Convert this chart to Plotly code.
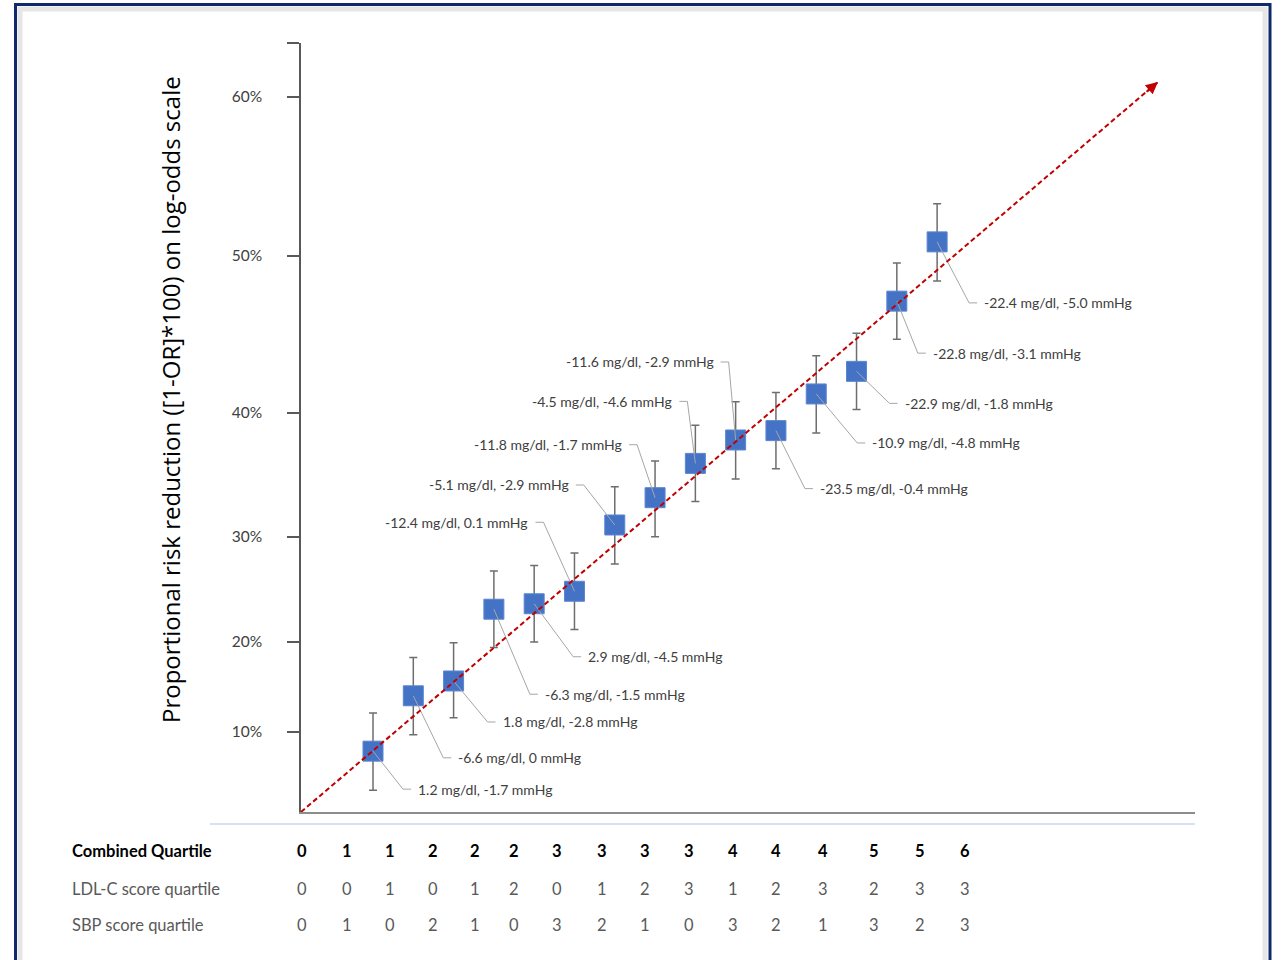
import plotly.graph_objects as go

# ---------------------------------------------------------------------------
# Data: proportional risk reduction per combined LDL-C / SBP quartile group,
# expressed in log-odds units (-ln OR); group 0/0 is the reference (origin).
# ---------------------------------------------------------------------------
GROUP_INDEX = list(range(1, 16))
LOG_ODDS_REDUCTION = [0.078, 0.149, 0.168, 0.260, 0.267, 0.283, 0.368, 0.403,
                      0.447, 0.477, 0.489, 0.536, 0.565, 0.655, 0.731]
ERROR_PLUS = [0.049, 0.049, 0.049, 0.049, 0.049, 0.049, 0.049, 0.047,
              0.049, 0.049, 0.049, 0.049, 0.049, 0.049, 0.049]
ERROR_MINUS = [0.050, 0.050, 0.047, 0.049, 0.049, 0.049, 0.050, 0.050,
               0.049, 0.050, 0.049, 0.050, 0.049, 0.049, 0.050]
POINT_LABELS = [
    "1.2 mg/dl, -1.7 mmHg", "-6.6 mg/dl, 0 mmHg", "1.8 mg/dl, -2.8 mmHg",
    "-6.3 mg/dl, -1.5 mmHg", "2.9 mg/dl, -4.5 mmHg", "-12.4 mg/dl, 0.1 mmHg",
    "-5.1 mg/dl, -2.9 mmHg", "-11.8 mg/dl, -1.7 mmHg", "-4.5 mg/dl, -4.6 mmHg",
    "-11.6 mg/dl, -2.9 mmHg", "-23.5 mg/dl, -0.4 mmHg", "-10.9 mg/dl, -4.8 mmHg",
    "-22.9 mg/dl, -1.8 mmHg", "-22.8 mg/dl, -3.1 mmHg", "-22.4 mg/dl, -5.0 mmHg",
]

# Trend arrow (origin to projected end)
TREND_X = [-0.787, 20.48]
TREND_Y = [0.0, 0.936]

# Axis ticks
Y_TICK_VALUES = [0.103, 0.218, 0.353, 0.512, 0.713, 0.917, 0.986]
Y_TICK_TEXT = ["10%", "20%", "30%", "40%", "50%", "60%", ""]
X_RANGE = [-0.787, 21.40]
Y_RANGE = [0.0, 0.986]

# Table under the chart
TABLE_ROW_NAMES = ["Combined Quartile", "LDL-C score quartile", "SBP score quartile"]
COMBINED_QUARTILE = [0, 1, 1, 2, 2, 2, 3, 3, 3, 3, 4, 4, 4, 5, 5, 6]
LDL_QUARTILE = [0, 0, 1, 0, 1, 2, 0, 1, 2, 3, 1, 2, 3, 2, 3, 3]
SBP_QUARTILE = [0, 1, 0, 2, 1, 0, 3, 2, 1, 0, 3, 2, 1, 3, 2, 3]

# ---------------------------------------------------------------------------
# Layout geometry (pixels)
# ---------------------------------------------------------------------------
W, H = 1281, 960
PLOT_L, PLOT_R, PLOT_T, PLOT_B = 301, 1195, 43, 812
PLOT_W, PLOT_H = PLOT_R - PLOT_L, PLOT_B - PLOT_T
PX_PER_X = PLOT_W / (X_RANGE[1] - X_RANGE[0])
PX_PER_Y = PLOT_H / (Y_RANGE[1] - Y_RANGE[0])

# Leader-line elbow offsets from each marker (dx, dy in px, label side)
LABEL_OFFSETS = [
    (30, 38, "r"), (30, 62, "r"), (34, 41, "r"), (36, 85, "r"), (39, 53, "r"),
    (-31, -69, "l"), (-31, -40, "l"), (-18, -53, "l"), (-8, -62, "l"), (-7, -78, "l"),
    (29, 58, "r"), (41, 49, "r"), (33, 32, "r"), (21, 52, "r"), (32, 61, "r"),
]
TABLE_COL_PX = [302, 347, 390, 433, 475, 514, 557, 602, 645, 689, 733, 776, 823, 874, 920, 965]
TABLE_ROW_PX = [851, 889, 925]

FONT = "Lato"
GREY_TEXT = "#404040"


def px_x(px):
    return (px - PLOT_L) / PLOT_W


def px_y(py):
    return (PLOT_B - py) / PLOT_H


fig = go.Figure()

# Markers with error bars
fig.add_trace(go.Scatter(
    x=GROUP_INDEX, y=LOG_ODDS_REDUCTION, mode="markers",
    marker=dict(symbol="square", size=20, color="#4472C4",
                line=dict(color="#5B86D1", width=1)),
    error_y=dict(type="data", symmetric=False, array=ERROR_PLUS,
                 arrayminus=ERROR_MINUS, color="#6E6E6E", thickness=1.5, width=4),
    hoverinfo="skip", showlegend=False, cliponaxis=False,
))

# Leader lines and labels
lx, ly = [], []
annotations = []
for xi, yi, text, (dx, dy, side) in zip(GROUP_INDEX, LOG_ODDS_REDUCTION, POINT_LABELS, LABEL_OFFSETS):
    ex = xi + dx / PX_PER_X
    ey = yi - dy / PX_PER_Y
    sgn = 1 if side == "r" else -1
    hx = ex + sgn * 8 / PX_PER_X
    lx += [xi, ex, hx, None]
    ly += [yi, ey, ey, None]
    annotations.append(dict(
        x=hx, y=ey, xref="x", yref="y", text=text, showarrow=False,
        xanchor="left" if side == "r" else "right", yanchor="middle",
        xshift=5 * sgn, font=dict(family=FONT, size=14, color=GREY_TEXT),
    ))

fig.add_trace(go.Scatter(
    x=lx, y=ly, mode="lines", line=dict(color="#A6A6A6", width=1),
    hoverinfo="skip", showlegend=False, cliponaxis=False,
))

# Dashed trend line with arrow head
fig.add_trace(go.Scatter(
    x=TREND_X, y=TREND_Y, mode="lines",
    line=dict(color="#C00000", width=2, dash="5px,3px"),
    hoverinfo="skip", showlegend=False, cliponaxis=False,
))
tail_frac = 0.985
annotations.append(dict(
    x=TREND_X[1], y=TREND_Y[1], xref="x", yref="y",
    ax=TREND_X[0] + (TREND_X[1] - TREND_X[0]) * tail_frac,
    ay=TREND_Y[0] + (TREND_Y[1] - TREND_Y[0]) * tail_frac,
    axref="x", ayref="y", text="", showarrow=True,
    arrowhead=2, arrowsize=1.2, arrowwidth=2, arrowcolor="#C00000",
))

# Y-axis title
annotations.append(dict(
    x=px_x(170), y=px_y(400), xref="paper", yref="paper",
    text="Proportional risk reduction ([1-OR]*100) on log-odds scale",
    textangle=-90, showarrow=False, xanchor="center", yanchor="middle",
    font=dict(family="Open Sans", size=24, color="#000000"),
))

# Table below the axis
rows = [COMBINED_QUARTILE, LDL_QUARTILE, SBP_QUARTILE]
for r, (name, vals, ypx) in enumerate(zip(TABLE_ROW_NAMES, rows, TABLE_ROW_PX)):
    bold = r == 0
    color = "#000000" if bold else "#595959"
    label = f"<b>{name}</b>" if bold else name
    annotations.append(dict(
        x=px_x(70), y=px_y(ypx), xref="paper", yref="paper", text=label,
        showarrow=False, xanchor="left", yanchor="middle",
        font=dict(family=FONT, size=16.5, color=color),
    ))
    for v, cx in zip(vals, TABLE_COL_PX):
        annotations.append(dict(
            x=px_x(cx), y=px_y(ypx), xref="paper", yref="paper",
            text=f"<b>{v}</b>" if bold else str(v),
            showarrow=False, xanchor="center", yanchor="middle",
            font=dict(family=FONT, size=16.5, color=color),
        ))

shapes = [
    # table rule under the axis
    dict(type="line", xref="paper", yref="paper",
         x0=px_x(210), x1=px_x(1195), y0=px_y(824), y1=px_y(824),
         line=dict(color="#C9D8F0", width=1.5)),
    # inner shadow of the frame
    dict(type="rect", xref="paper", yref="paper",
         x0=px_x(20), x1=px_x(1265), y0=px_y(9), y1=px_y(975),
         line=dict(color="#E6E6E6", width=5)),
    # navy frame
    dict(type="rect", xref="paper", yref="paper",
         x0=px_x(15.5), x1=px_x(1270), y0=px_y(4.5), y1=px_y(975),
         line=dict(color="#0E2A6B", width=3)),
]

fig.update_layout(
    width=W, height=H,
    margin=dict(l=PLOT_L, r=W - PLOT_R, t=PLOT_T, b=H - PLOT_B),
    paper_bgcolor="white", plot_bgcolor="white",
    showlegend=False,
    xaxis=dict(range=X_RANGE, showgrid=False, zeroline=False, showticklabels=False,
               ticks="", showline=True, linecolor="#8C8C8C", linewidth=2),
    yaxis=dict(range=Y_RANGE, showgrid=False, zeroline=False,
               tickvals=Y_TICK_VALUES, ticktext=Y_TICK_TEXT,
               ticks="outside", ticklen=12, tickwidth=1.5, tickcolor="#595959",
               showline=True, linecolor="#595959", linewidth=1.5,
               tickfont=dict(family=FONT, size=15.5, color=GREY_TEXT), ticklabelstandoff=22),
    annotations=annotations,
    shapes=shapes,
)

fig.write_html("out.html")
